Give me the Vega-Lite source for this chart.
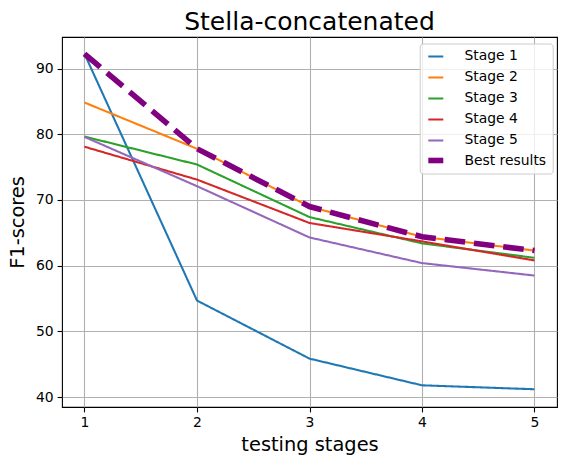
{
  "$schema": "https://vega.github.io/schema/vega-lite/v6.json",
  "width": 495,
  "height": 370,
  "autosize": {"type": "none"},
  "padding": {"left": 62, "top": 37, "right": 10, "bottom": 58},
  "background": "white",
  "title": {
    "text": "Stella-concatenated",
    "font": "DejaVu Sans",
    "fontSize": 25,
    "fontWeight": "normal",
    "color": "black",
    "frame": "group",
    "offset": 2
  },
  "config": {
    "font": "DejaVu Sans",
    "view": {"stroke": "black", "strokeWidth": 1.1}
  },
  "data": {
    "values": [
      {"stage": 1, "series": "Stage 1", "f1": 92.24},
      {"stage": 2, "series": "Stage 1", "f1": 54.7},
      {"stage": 3, "series": "Stage 1", "f1": 45.86},
      {"stage": 4, "series": "Stage 1", "f1": 41.8},
      {"stage": 5, "series": "Stage 1", "f1": 41.2},
      {"stage": 1, "series": "Stage 2", "f1": 84.83},
      {"stage": 2, "series": "Stage 2", "f1": 77.8},
      {"stage": 3, "series": "Stage 2", "f1": 69.0},
      {"stage": 4, "series": "Stage 2", "f1": 64.4},
      {"stage": 5, "series": "Stage 2", "f1": 62.3},
      {"stage": 1, "series": "Stage 3", "f1": 79.65},
      {"stage": 2, "series": "Stage 3", "f1": 75.4},
      {"stage": 3, "series": "Stage 3", "f1": 67.4},
      {"stage": 4, "series": "Stage 3", "f1": 63.4},
      {"stage": 5, "series": "Stage 3", "f1": 61.2},
      {"stage": 1, "series": "Stage 4", "f1": 78.1},
      {"stage": 2, "series": "Stage 4", "f1": 73.1},
      {"stage": 3, "series": "Stage 4", "f1": 66.5},
      {"stage": 4, "series": "Stage 4", "f1": 63.7},
      {"stage": 5, "series": "Stage 4", "f1": 60.8},
      {"stage": 1, "series": "Stage 5", "f1": 79.6},
      {"stage": 2, "series": "Stage 5", "f1": 72.1},
      {"stage": 3, "series": "Stage 5", "f1": 64.3},
      {"stage": 4, "series": "Stage 5", "f1": 60.4},
      {"stage": 5, "series": "Stage 5", "f1": 58.5},
      {"stage": 1, "series": "Best results", "f1": 92.24},
      {"stage": 2, "series": "Best results", "f1": 77.8},
      {"stage": 3, "series": "Best results", "f1": 69.0},
      {"stage": 4, "series": "Best results", "f1": 64.4},
      {"stage": 5, "series": "Best results", "f1": 62.3}
    ]
  },
  "mark": {"type": "line"},
  "encoding": {
    "x": {
      "field": "stage",
      "type": "quantitative",
      "scale": {"domain": [0.8, 5.2], "nice": false, "zero": false},
      "axis": {
        "values": [1, 2, 3, 4, 5],
        "format": "d",
        "title": "testing stages",
        "titleFont": "DejaVu Sans",
        "titleFontSize": 19.4,
        "titleFontWeight": "normal",
        "titleColor": "black",
        "titlePadding": 6,
        "labelFont": "DejaVu Sans",
        "labelFontSize": 13.9,
        "labelColor": "black",
        "labelPadding": 4,
        "tickColor": "black",
        "tickSize": 4.9,
        "tickWidth": 1.1,
        "domain": false,
        "grid": true,
        "gridColor": "#b0b0b0",
        "gridWidth": 1.1
      }
    },
    "y": {
      "field": "f1",
      "type": "quantitative",
      "scale": {"domain": [38.5, 94.8], "nice": false, "zero": false},
      "axis": {
        "values": [40, 50, 60, 70, 80, 90],
        "title": "F1-scores",
        "titleFont": "DejaVu Sans",
        "titleFontSize": 19.4,
        "titleFontWeight": "normal",
        "titleColor": "black",
        "titlePadding": 8,
        "labelFont": "DejaVu Sans",
        "labelFontSize": 13.9,
        "labelColor": "black",
        "labelPadding": 4,
        "tickColor": "black",
        "tickSize": 4.9,
        "tickWidth": 1.1,
        "domain": false,
        "grid": true,
        "gridColor": "#b0b0b0",
        "gridWidth": 1.1
      }
    },
    "color": {
      "field": "series",
      "type": "nominal",
      "scale": {
        "domain": ["Stage 1", "Stage 2", "Stage 3", "Stage 4", "Stage 5", "Best results"],
        "range": ["#1f77b4", "#ff7f0e", "#2ca02c", "#d62728", "#9467bd", "#800080"]
      },
      "legend": {
        "title": null,
        "orient": "none",
        "legendX": 357.7,
        "legendY": 6.5,
        "symbolType": "M-1.1,0H2.65",
        "symbolSize": 64,
        "labelOffset": 24.7,
        "rowPadding": 6,
        "padding": 6,
        "fillColor": "rgba(255,255,255,0.8)",
        "strokeColor": "#cccccc",
        "cornerRadius": 3,
        "labelFont": "DejaVu Sans",
        "labelFontSize": 13.9,
        "labelColor": "black",
        "encode": {
          "symbols": {"update": {"strokeJoin": {"value": "bevel"}}}
        }
      }
    },
    "strokeDash": {
      "field": "series",
      "type": "nominal",
      "scale": {
        "domain": ["Stage 1", "Stage 2", "Stage 3", "Stage 4", "Stage 5", "Best results"],
        "range": [[1, 0], [1, 0], [1, 0], [1, 0], [1, 0], [20.6, 8.9]]
      }
    },
    "strokeWidth": {
      "field": "series",
      "type": "nominal",
      "scale": {
        "type": "ordinal",
        "domain": ["Stage 1", "Stage 2", "Stage 3", "Stage 4", "Stage 5", "Best results"],
        "range": [2.08, 2.08, 2.08, 2.08, 2.08, 5.6]
      }
    }
  }
}
